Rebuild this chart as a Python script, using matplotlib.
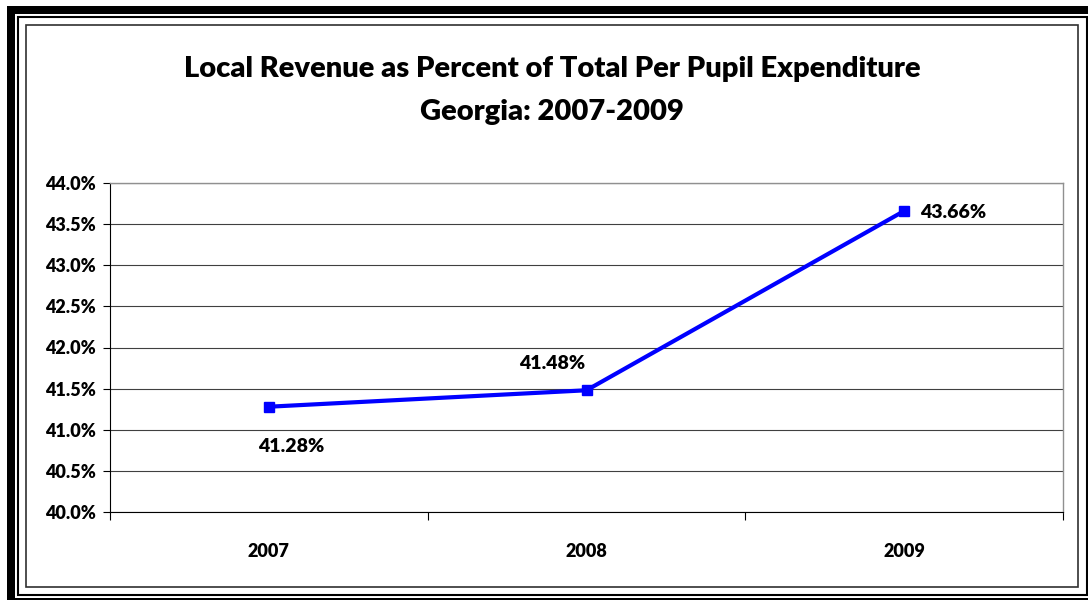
import matplotlib.pyplot as plt
from matplotlib.patches import Rectangle
from matplotlib.ticker import FuncFormatter

years = ['2007', '2008', '2009']
local_share = [41.28, 41.48, 43.66]
y_ticks = [40.0, 40.5, 41.0, 41.5, 42.0, 42.5, 43.0, 43.5, 44.0]

W, H = 1088, 600
plt.rcParams['font.family'] = ['Lato', 'DejaVu Sans']
plt.rcParams['font.weight'] = 'bold'

fig = plt.figure(figsize=(W / 100, H / 100), dpi=100)


def box(x0, y0, x1, y1):
    # pixel box (top-left origin) -> figure fraction rect
    return (x0 / W, 1 - y1 / H, (x1 - x0) / W, (y1 - y0) / H)


# frame around the picture
for (x0, y0, x1, y1) in [(7, 6, 15, 600), (7, 6, 1088, 14), (7, 598, 1088, 600)]:
    l, b, w, h = box(x0, y0, x1, y1)
    fig.add_artist(Rectangle((l, b), w, h, transform=fig.transFigure,
                             facecolor='black', edgecolor='none'))
l, b, w, h = box(18, 17, 1087, 595)
fig.add_artist(Rectangle((l, b), w, h, transform=fig.transFigure,
                         facecolor='none', edgecolor='black', linewidth=1.5))
l, b, w, h = box(26, 25, 1078, 587)
fig.add_artist(Rectangle((l, b), w, h, transform=fig.transFigure,
                         facecolor='none', edgecolor='#303030', linewidth=1.2))

ax = fig.add_axes(box(110, 183, 1063, 512))
x = range(1, len(years) + 1)
ax.plot(x, local_share, color='#0000FF', linewidth=3, marker='s',
        markersize=6.5, zorder=3)

ax.set_xlim(0.5, len(years) + 0.5)
ax.set_ylim(40.0, 44.0)
ax.set_yticks(y_ticks)
ax.yaxis.set_major_formatter(FuncFormatter(lambda v, p: f'{v:.1f}%'))
ax.set_xticks([1, 2, 3])
ax.set_xticklabels(years)
ax.set_xticks([0.5, 1.5, 2.5, 3.5], minor=True)
ax.tick_params(axis='x', which='major', length=0, pad=22, labelsize=13)
ax.tick_params(axis='x', which='minor', length=6, width=0.8, direction='out')
ax.tick_params(axis='y', length=5, width=0.8, direction='out', pad=5,
               labelsize=13)
for lab in ax.get_xticklabels() + ax.get_yticklabels():
    lab.set_fontweight('heavy')
ax.grid(axis='y', color='#404040', linewidth=0.8)
ax.set_axisbelow(True)

for side in ['top', 'right']:
    ax.spines[side].set_color('#909090')
    ax.spines[side].set_linewidth(1.0)
ax.spines['left'].set_linewidth(0.8)
ax.spines['bottom'].set_linewidth(0.8)

offsets = [(16, -29), (-25, 19), (35, -1)]
for xi, v, off in zip(x, local_share, offsets):
    ax.annotate(f'{v:.2f}%', (xi, v), xytext=off, textcoords='offset points',
                ha='center', va='center', fontsize=14, fontweight='heavy')

fig.text(552 / W, 1 - 69 / H,
         'Local Revenue as Percent of Total Per Pupil Expenditure',
         ha='center', va='center', fontsize=21, fontweight='heavy')
fig.text(552 / W, 1 - 112 / H, 'Georgia: 2007-2009',
         ha='center', va='center', fontsize=21, fontweight='heavy')

fig.savefig('out.png', dpi=100)
